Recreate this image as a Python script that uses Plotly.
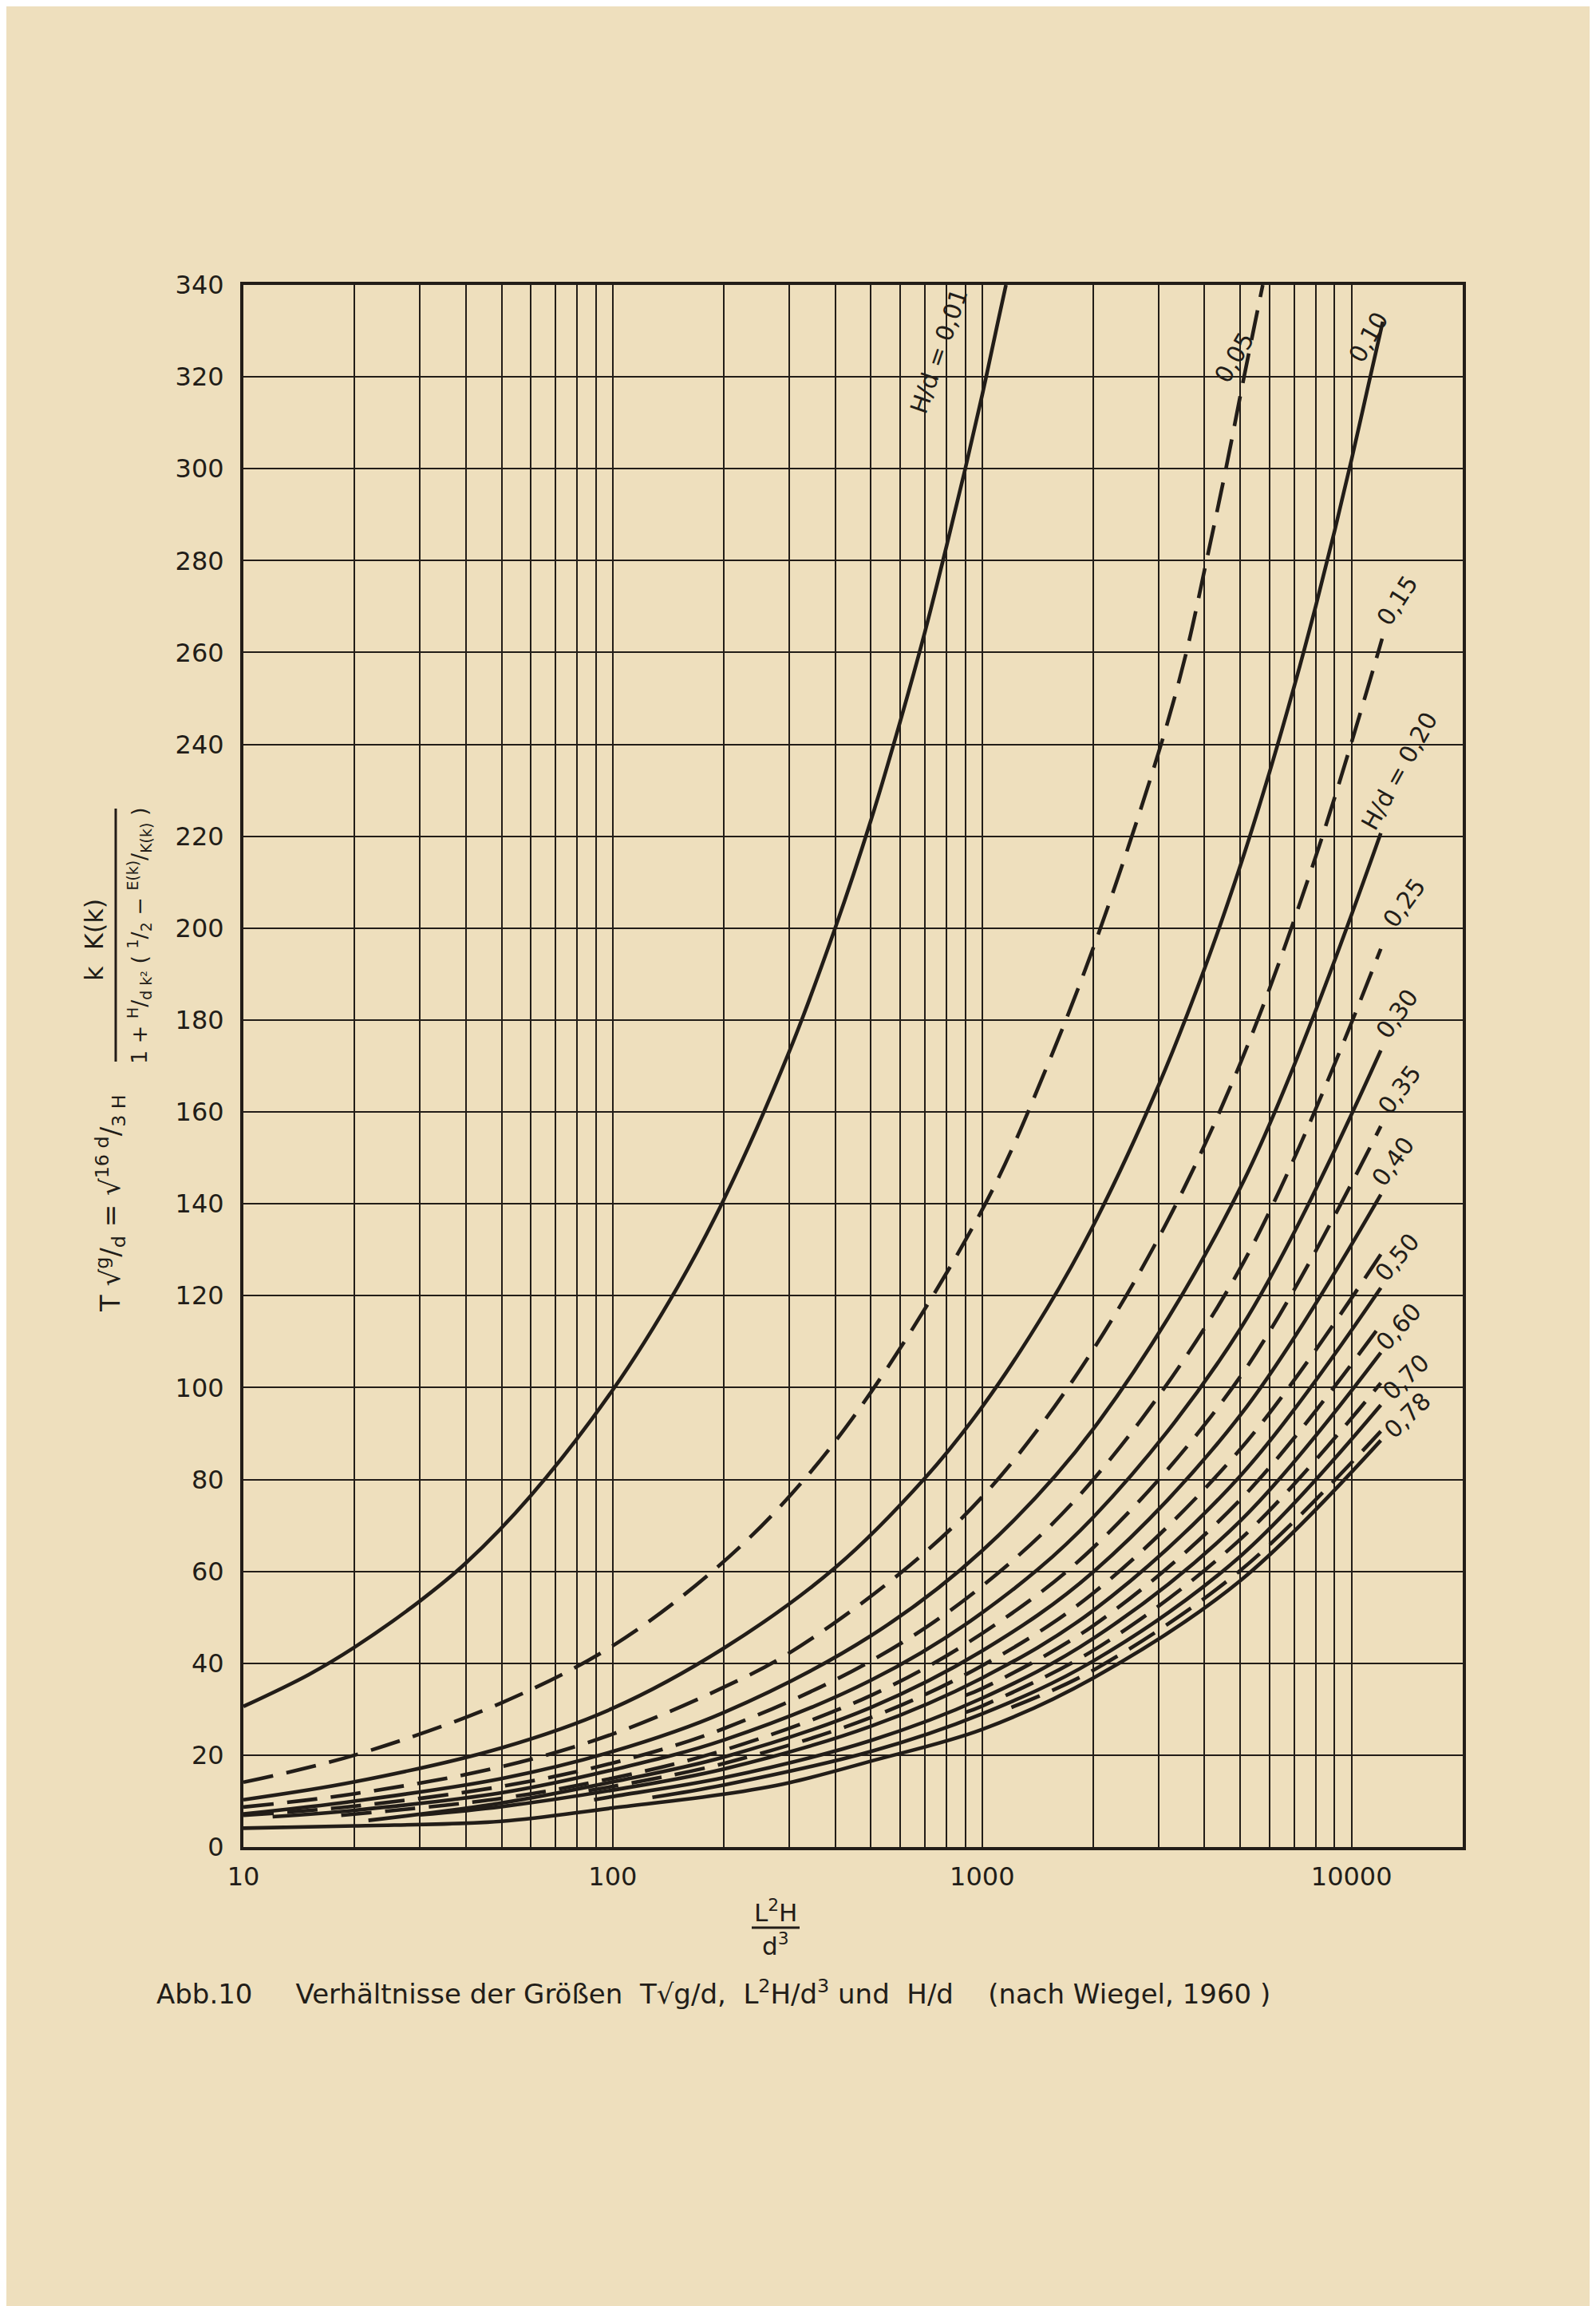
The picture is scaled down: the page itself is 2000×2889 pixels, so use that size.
import math
import plotly.graph_objects as go

# ---------------- data ----------------
# x = L^2 H / d^3 , y = T*sqrt(g/d), one curve per H/d
x_001 = [10, 15, 20, 30, 40, 60, 100, 150, 200, 300, 400, 500, 600, 700, 800, 900, 1000, 1100, 1160]
y_001 = [30.6, 37.5, 43.5, 53.5, 61.8, 76.5, 99.5, 122, 141, 173, 200, 223.5, 245, 264.5, 283, 300, 316, 331.5, 340]

x_005 = [10, 20, 50, 100, 188, 306, 500, 1020, 1500, 2090, 3050, 3570, 4050, 4570, 5117, 5750]
y_005 = [14.1, 20.0, 31.4, 43.8, 60.3, 77.0, 99, 140, 170, 200, 240, 260, 280, 300, 320, 340]

x_010 = [10, 20, 50, 100, 200, 400, 700, 1000, 1500, 2000, 3000, 4000, 5000, 6000, 7000, 8000, 9000, 10000, 11000, 12150]
y_010 = [10.3, 14.2, 21.6, 30.2, 43.3, 60.8, 80.3, 95.8, 117.3, 135.3, 165.7, 191.2, 213.6, 234, 252.7, 270.1, 286.5, 302, 316.7, 332]

x_015 = [10, 20, 50, 100, 200, 300, 600, 1000, 1700, 3000, 5000, 8000, 12100]
y_015 = [8.7, 11.6, 17.5, 24.6, 34.8, 42.2, 59.6, 76.2, 99.8, 132.5, 170.6, 215.6, 263]

x_020 = [10, 20, 50, 100, 200, 500, 1000, 2000, 5000, 12000]
y_020 = [7.2, 10.0, 14.9, 20.8, 29.3, 46.0, 64.5, 91.0, 143.5, 220.7]

x_025 = [10, 20, 50, 100, 200, 500, 1000, 2000, 5000, 12000]
y_025 = [6.9, 8.9, 13.2, 18.3, 25.8, 40.5, 56.8, 80.0, 126.0, 195.5]

x_030 = [12, 20, 50, 100, 200, 500, 1000, 2000, 5000, 12000]
y_030 = [6.6, 8.0, 11.8, 16.8, 23.3, 36.3, 51.0, 71.8, 112.8, 173.4]

x_035 = [18.4, 50, 100, 200, 500, 1000, 2000, 5000, 12000]
y_035 = [6.9, 10.6, 15.0, 21.1, 33.0, 46.5, 65.2, 102.4, 156.9]

x_040 = [21.8, 50, 100, 200, 500, 1000, 2000, 5000, 12000]
y_040 = [5.8, 9.6, 14.2, 19.6, 30.4, 42.7, 59.9, 94.0, 142.0]

x_045 = [86, 100, 200, 500, 1000, 2000, 5000, 12000]
y_045 = [12.3, 13.2, 18.2, 28.2, 39.5, 55.3, 86.6, 129.0]

x_050 = [30, 50, 100, 200, 500, 1000, 2000, 5000, 12000]
y_050 = [7.0, 8.8, 12.4, 17.0, 26.3, 36.8, 51.5, 80.8, 121.7]

x_055 = [900, 1000, 2000, 5000, 12000]
y_055 = [33.0, 34.5, 48.2, 75.6, 113.7]

x_060 = [89, 100, 200, 500, 1000, 2000, 5000, 12000]
y_060 = [10.3, 11.0, 15.1, 23.2, 32.4, 45.4, 71.0, 107.6]

x_065 = [900, 1000, 2000, 5000, 12000]
y_065 = [29.3, 30.7, 42.8, 67.0, 101.0]

x_070 = [128, 200, 500, 1000, 2000, 5000, 12000]
y_070 = [10.8, 13.5, 20.8, 29.0, 40.5, 63.3, 96.2]

x_075 = [1200, 2000, 5000, 12000]
y_075 = [30.4, 38.5, 60.2, 90.5]

x_078 = [10, 20, 50, 100, 200, 300, 500, 1000, 2000, 5000, 12000]
y_078 = [4.1, 4.6, 5.6, 8.5, 11.5, 14.0, 18.7, 25.6, 36.8, 58.0, 88.5]

curves = [
    (x_001, y_001, "solid"), (x_005, y_005, "dash"), (x_010, y_010, "solid"),
    (x_015, y_015, "dash"), (x_020, y_020, "solid"), (x_025, y_025, "dash"),
    (x_030, y_030, "solid"), (x_035, y_035, "dash"), (x_040, y_040, "solid"),
    (x_045, y_045, "dash"), (x_050, y_050, "solid"), (x_055, y_055, "dash"),
    (x_060, y_060, "solid"), (x_065, y_065, "dash"), (x_070, y_070, "solid"),
    (x_075, y_075, "dash"), (x_078, y_078, "solid"),
]

x_major_ticks = [10, 100, 1000, 10000]
x_minor_grid = ([10 * i for i in range(2, 10)] + [100 * i for i in range(2, 10)]
                + [1000 * i for i in range(2, 10)] + [20000])
y_ticks = list(range(0, 341, 20))

curve_labels = ["H/d = 0,01", "0,05", "0,10", "0,15", "H/d = 0,20", "0,25", "0,30",
                "0,35", "0,40", "0,50", "0,60", "0,70", "0,78"]

# ---------------- styling / layout ----------------
W, H = 2000, 2889
ML, MR, MT, MB = 297, 175, 349, 583
INK = "#221d18"
PAPER = "#eedfbd"
FONT = "DejaVu Sans"

def px(x):
    return (x - ML) / (W - ML - MR)

def py(y):
    return (H - MB - y) / (H - MT - MB)

fig = go.Figure()
for xs, ys, style in curves:
    dash = "solid" if style == "solid" else "38px,17px"
    fig.add_trace(go.Scatter(
        x=xs, y=ys, mode="lines",
        line=dict(color=INK, width=4.6, dash=dash, shape="spline", smoothing=1.0),
        hoverinfo="skip", showlegend=False))

fig.update_xaxes(
    type="log", range=[1, math.log10(20000)],
    tickvals=x_major_ticks, ticktext=[str(v) for v in x_major_ticks],
    showgrid=True, gridcolor=INK, gridwidth=2,
    minor=dict(tickvals=x_minor_grid, showgrid=True, gridcolor=INK, gridwidth=2, ticks=""),
    showline=True, linecolor=INK, linewidth=4, mirror=True,
    ticks="", ticklabelstandoff=6, zeroline=False,
    tickfont=dict(family=FONT, size=32, color=INK))
fig.update_yaxes(
    range=[0, 340], tickvals=y_ticks,
    showgrid=True, gridcolor=INK, gridwidth=2,
    showline=True, linecolor=INK, linewidth=4, mirror=True,
    ticks="", ticklabelstandoff=14, zeroline=False,
    tickfont=dict(family=FONT, size=32, color=INK))

ann = []
label_pos = [(1168, 432, -71), (1538, 440, -60), (1707, 415, -60), (1743, 745, -57),
             (1745, 958, -61), (1751, 1123, -54), (1742, 1262, -55), (1745, 1357, -53),
             (1737, 1447, -54), (1742, 1567, -50), (1744, 1654, -48), (1753, 1717, -44),
             (1755, 1765, -44)]
for txt, (lx, ly, ang) in zip(curve_labels, label_pos):
    ann.append(dict(text=txt, x=px(lx), y=py(ly), xref="paper", yref="paper",
                    showarrow=False, textangle=ang, xanchor="center", yanchor="middle",
                    font=dict(family=FONT, size=30, color=INK)))

# y-axis formula (rotated)
ann.append(dict(text="T √<sup>g</sup>/<sub>d</sub> = √<sup>16 d</sup>/<sub>3 H</sub>",
                x=px(130), y=py(1500), xref="paper", yref="paper", showarrow=False,
                textangle=-90, xanchor="center", yanchor="middle",
                font=dict(family=FONT, size=34, color=INK)))
ann.append(dict(text="k  K(k)", x=px(110), y=py(1170), xref="paper", yref="paper",
                showarrow=False, textangle=-90, xanchor="center", yanchor="middle",
                font=dict(family=FONT, size=32, color=INK)))
ann.append(dict(text="1 + <sup>H</sup>/<sub>d k²</sub> ( <sup>1</sup>/<sub>2</sub> − <sup>E(k)</sup>/<sub>K(k)</sub> )",
                x=px(166), y=py(1165), xref="paper", yref="paper", showarrow=False,
                textangle=-90, xanchor="center", yanchor="middle",
                font=dict(family=FONT, size=27, color=INK)))

# x-axis title as a fraction
ann.append(dict(text="L<sup>2</sup>H", x=px(964), y=py(2386), xref="paper", yref="paper",
                showarrow=False, xanchor="center", yanchor="middle",
                font=dict(family=FONT, size=31, color=INK)))
ann.append(dict(text="d<sup>3</sup>", x=px(964), y=py(2428), xref="paper", yref="paper",
                showarrow=False, xanchor="center", yanchor="middle",
                font=dict(family=FONT, size=31, color=INK)))

# caption
ann.append(dict(text="Abb.10     Verhältnisse der Größen  T√g/d,  L<sup>2</sup>H/d<sup>3</sup> und  H/d    (nach Wiegel, 1960 )",
                x=px(186), y=py(2488), xref="paper", yref="paper", showarrow=False,
                xanchor="left", yanchor="middle",
                font=dict(family=FONT, size=34, color=INK)))

shapes = [
    dict(type="line", xref="paper", yref="paper", x0=px(934), x1=px(994),
         y0=py(2407), y1=py(2407), line=dict(color=INK, width=3)),
    dict(type="line", xref="paper", yref="paper", x0=px(137), x1=px(137),
         y0=py(1005), y1=py(1322), line=dict(color=INK, width=3)),
]

fig.update_layout(
    width=W, height=H, margin=dict(l=ML, r=MR, t=MT, b=MB),
    paper_bgcolor=PAPER, plot_bgcolor=PAPER,
    showlegend=False, annotations=ann, shapes=shapes,
    font=dict(family=FONT, color=INK))

fig.write_html("out.html")
